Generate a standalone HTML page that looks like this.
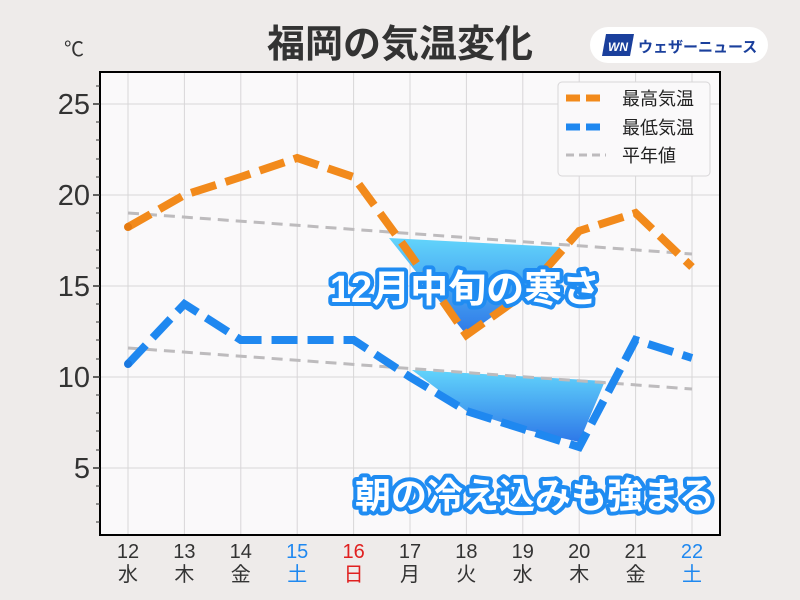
<!DOCTYPE html><html><head><meta charset="utf-8"><style>body{margin:0;background:#eeebea;}svg{display:block}text{font-family:"Liberation Sans","Noto Sans CJK JP",sans-serif}</style></head><body>
<svg width="800" height="600" viewBox="0 0 800 600" xmlns="http://www.w3.org/2000/svg">
<defs>
<linearGradient id="g" x1="0" y1="0" x2="0" y2="1"><stop offset="0" stop-color="#62d4fb"/><stop offset="1" stop-color="#2e78e8"/></linearGradient>
<clipPath id="c"><rect x="100" y="72" width="620" height="463"/></clipPath>
</defs>
<rect width="800" height="600" fill="#eeebea"/>
<text x="400" y="57" text-anchor="middle" font-size="38" font-weight="bold" fill="#333">福岡の気温変化</text>
<rect x="590" y="27" width="178" height="36" rx="18" fill="#fff"/>
<polygon points="606,34 634,34 630,56 602,56" fill="#1a3f9c"/>
<text x="618" y="51" text-anchor="middle" font-size="12" font-weight="bold" font-style="italic" fill="#fff">WN</text>
<text x="638" y="52" font-size="15" font-weight="bold" fill="#1a3f9c">ウェザーニュース</text>
<text x="64" y="56" font-size="20" fill="#333">℃</text>
<rect x="100" y="72" width="620" height="463" fill="#faf9fa"/>
<g stroke="#d8d6d8" stroke-width="1">
<line x1="100" x2="720" y1="104" y2="104"/><line x1="100" x2="720" y1="195" y2="195"/><line x1="100" x2="720" y1="286" y2="286"/><line x1="100" x2="720" y1="377" y2="377"/><line x1="100" x2="720" y1="468" y2="468"/>
<line x1="128" x2="128" y1="72" y2="535"/><line x1="184.4" x2="184.4" y1="72" y2="535"/><line x1="240.8" x2="240.8" y1="72" y2="535"/><line x1="297.2" x2="297.2" y1="72" y2="535"/><line x1="353.6" x2="353.6" y1="72" y2="535"/><line x1="410" x2="410" y1="72" y2="535"/><line x1="466.4" x2="466.4" y1="72" y2="535"/><line x1="522.8" x2="522.8" y1="72" y2="535"/><line x1="579.2" x2="579.2" y1="72" y2="535"/><line x1="635.6" x2="635.6" y1="72" y2="535"/><line x1="692" x2="692" y1="72" y2="535"/>
</g>
<g clip-path="url(#c)">
<polygon points="389,238 466.4,335 522.8,295 560,247" fill="url(#g)"/>
<polygon points="412,370 466.4,411 522.8,429 579.2,442 605,381" fill="url(#g)"/>
<polyline points="128,213 692,254" fill="none" stroke="#bdbbbd" stroke-width="3" stroke-dasharray="11,7"/>
<polyline points="128,348 692,389" fill="none" stroke="#bdbbbd" stroke-width="3" stroke-dasharray="11,7"/>
<polyline points="128,227 184.4,195 240.8,177 297.2,158 353.6,177 410,254 466.4,335 522.8,295 579.2,231 635.6,213 692,267" fill="none" stroke="#f28a1b" stroke-width="8" stroke-dasharray="26,10"/>
<polyline points="128,364 184.4,304 240.8,340 297.2,340 353.6,340 410,377 466.4,411 522.8,429 579.2,447 635.6,340 692,358" fill="none" stroke="#1f88f0" stroke-width="8" stroke-dasharray="26,10"/>
<circle cx="128" cy="227" r="4" fill="#e57a10"/><circle cx="128" cy="364" r="4" fill="#1a78e0"/>
</g>
<rect x="100" y="72" width="620" height="463" fill="none" stroke="#000" stroke-width="2"/>
<g stroke="#333" stroke-width="1.5">
<line x1="93" x2="100" y1="104" y2="104"/><line x1="93" x2="100" y1="195" y2="195"/><line x1="93" x2="100" y1="286" y2="286"/><line x1="93" x2="100" y1="377" y2="377"/><line x1="93" x2="100" y1="468" y2="468"/>
</g>
<g stroke="#333" stroke-width="1">
<path d="M96 86h4M96 122h4M96 140h4M96 159h4M96 177h4M96 213h4M96 231h4M96 250h4M96 268h4M96 304h4M96 322h4M96 340h4M96 359h4M96 395h4M96 413h4M96 431h4M96 450h4M96 486h4M96 504h4M96 522h4"/>
</g>
<g font-size="29" fill="#333" text-anchor="end">
<text x="90" y="114">25</text><text x="90" y="205">20</text><text x="90" y="296">15</text><text x="90" y="387">10</text><text x="90" y="478">5</text>
</g>
<g font-size="20" fill="#333" text-anchor="middle">
<text x="128" y="558">12</text><text x="184.4" y="558">13</text><text x="240.8" y="558">14</text><text x="297.2" y="558" fill="#1f88f0">15</text><text x="353.6" y="558" fill="#e02020">16</text><text x="410" y="558">17</text><text x="466.4" y="558">18</text><text x="522.8" y="558">19</text><text x="579.2" y="558">20</text><text x="635.6" y="558">21</text><text x="692" y="558" fill="#1f88f0">22</text>
<text x="128" y="581">水</text><text x="184.4" y="581">木</text><text x="240.8" y="581">金</text><text x="297.2" y="581" fill="#1f88f0">土</text><text x="353.6" y="581" fill="#e02020">日</text><text x="410" y="581">月</text><text x="466.4" y="581">火</text><text x="522.8" y="581">水</text><text x="579.2" y="581">木</text><text x="635.6" y="581">金</text><text x="692" y="581" fill="#1f88f0">土</text>
</g>
<rect x="558" y="82" width="152" height="94" rx="4" fill="#faf9fa" stroke="#d8d6d8"/>
<line x1="566" x2="606" y1="98" y2="98" stroke="#f28a1b" stroke-width="7" stroke-dasharray="14,6"/>
<line x1="566" x2="606" y1="127" y2="127" stroke="#1f88f0" stroke-width="7" stroke-dasharray="14,6"/>
<line x1="566" x2="606" y1="155" y2="155" stroke="#bdbbbd" stroke-width="3" stroke-dasharray="8,5"/>
<g font-size="18" fill="#222"><text x="622" y="105">最高気温</text><text x="622" y="134">最低気温</text><text x="622" y="162">平年値</text></g>
<g font-size="38" font-weight="bold" text-anchor="middle" stroke-linejoin="round">
<text x="465" y="302" stroke="#1f8cf2" stroke-width="8" fill="#1f8cf2">12月中旬の寒さ</text>
<text x="465" y="302" fill="#fff">12月中旬の寒さ</text>
<text x="535" y="508" stroke="#1f8cf2" stroke-width="8" fill="#1f8cf2" font-size="36">朝の冷え込みも強まる</text>
<text x="535" y="508" fill="#fff" font-size="36">朝の冷え込みも強まる</text>
</g>
</svg></body></html>
